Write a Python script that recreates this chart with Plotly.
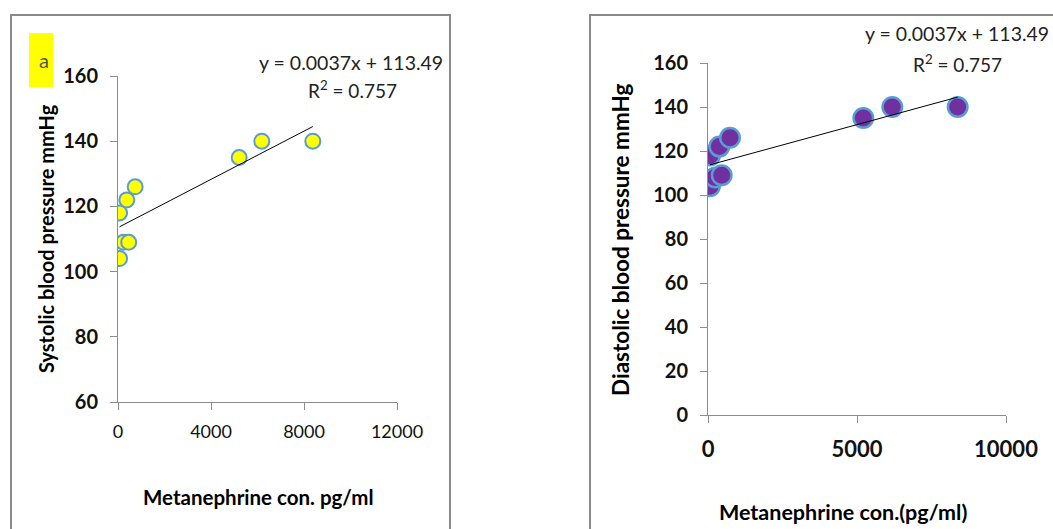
import plotly.graph_objects as go

# ---- data ----
metanephrine = [67, 235, 460, 67, 380, 738, 5212, 6185, 8379]
systolic = [104, 109, 109, 118, 122, 126, 135, 140, 140]
diastolic = [104, 108, 109, 118, 122, 126, 135, 140, 140]
slope = 0.0037
intercept = 113.49
eq_text = "y = 0.0037x + 113.49"
r2_text = "R<sup>2</sup> = 0.757"
a_yticks = [60, 80, 100, 120, 140, 160]
a_xticks = [0, 4000, 8000, 12000]
b_yticks = [0, 20, 40, 60, 80, 100, 120, 140, 160]
b_xticks = [0, 5000, 10000]

W, H = 1053, 529
def px(x):
    return x / W
def py(y):
    return 1 - y / H

FONT = "Lato"
AXCOL = "#8c8c8c"

fx = [min(metanephrine), max(metanephrine)]
fy = [slope * v + intercept for v in fx]

fig = go.Figure()
fig.add_trace(go.Scatter(x=metanephrine, y=systolic, mode="markers", xaxis="x", yaxis="y",
                         marker=dict(size=15, color="#FFFF00", line=dict(color="#5B9BD5", width=2)),
                         showlegend=False))
fig.add_trace(go.Scatter(x=fx, y=fy, mode="lines", xaxis="x", yaxis="y",
                         line=dict(color="black", width=1), showlegend=False))
fig.add_trace(go.Scatter(x=metanephrine, y=diastolic, mode="markers", xaxis="x2", yaxis="y2",
                         marker=dict(size=19.5, color="#7030A0", line=dict(color="#5B9BD5", width=2.5)),
                         showlegend=False))
fig.add_trace(go.Scatter(x=fx, y=fy, mode="lines", xaxis="x2", yaxis="y2",
                         line=dict(color="black", width=1), showlegend=False))

axis_common = dict(showgrid=False, zeroline=False, showline=True, linecolor=AXCOL, linewidth=1,
                   ticks="outside", ticklen=7, tickcolor=AXCOL, tickwidth=1, automargin=False)

fig.update_layout(
    width=W, height=H,
    margin=dict(l=0, r=0, t=0, b=0, autoexpand=False),
    paper_bgcolor="white", plot_bgcolor="white",
    font=dict(family=FONT, color="black"),
    xaxis=dict(domain=[px(118), px(397)], range=[0, 12000], tickvals=a_xticks,
               ticktext=[str(v) for v in a_xticks], anchor="y", ticklabelstandoff=6,
               tickfont=dict(size=18, color="#111"), **axis_common),
    yaxis=dict(domain=[py(402), py(76)], range=[60, 160], tickvals=a_yticks,
               ticktext=[str(v) for v in a_yticks], anchor="x", ticklabelstandoff=8,
               tickfont=dict(size=20, color="#111", weight="bold"), **axis_common),
    xaxis2=dict(domain=[px(708), px(1006)], range=[0, 10000], tickvals=b_xticks,
                ticktext=[str(v) for v in b_xticks], anchor="y2", ticklabelstandoff=8,
                tickfont=dict(size=22, color="#111", weight="bold"), **axis_common),
    yaxis2=dict(domain=[py(415), py(63)], range=[0, 160], tickvals=b_yticks,
                ticktext=[str(v) for v in b_yticks], anchor="x2", ticklabelstandoff=8,
                tickfont=dict(size=20, color="#111", weight="bold"), **axis_common),
)

shapes = [
    dict(type="rect", xref="paper", yref="paper", x0=px(11), x1=px(450), y0=py(560), y1=py(15),
         line=dict(color="#8a8a8a", width=2)),
    dict(type="rect", xref="paper", yref="paper", x0=px(590), x1=px(1100), y0=py(560), y1=py(15),
         line=dict(color="#8a8a8a", width=2)),
    dict(type="rect", xref="paper", yref="paper", x0=px(29), x1=px(53), y0=py(87), y1=py(33),
         line=dict(width=0), fillcolor="#FFFF00"),
]
fig.update_layout(shapes=shapes)

ann = [
    dict(text="a", x=px(51), y=py(60), xanchor="right", yanchor="middle", font=dict(size=20, color="#555")),
    dict(text=eq_text, x=px(351), y=py(62), xanchor="center", yanchor="middle", font=dict(size=19.5, color="#222")),
    dict(text=r2_text, x=px(352), y=py(90), xanchor="center", yanchor="middle", font=dict(size=19, color="#222")),
    dict(text="<b>Systolic blood pressure mmHg</b>", x=px(46), y=py(239), textangle=-90,
         xanchor="center", yanchor="middle", font=dict(size=20)),
    dict(text="<b>Metanephrine con. pg/ml</b>", x=px(258), y=py(497), xanchor="center", yanchor="middle",
         font=dict(size=20.5)),
    dict(text=eq_text, x=px(863), y=py(33), xanchor="left", yanchor="middle", font=dict(size=19.5, color="#222")),
    dict(text=r2_text, x=px(957), y=py(63), xanchor="center", yanchor="middle", font=dict(size=19, color="#222")),
    dict(text="<b>Diastolic blood pressure mmHg</b>", x=px(620), y=py(240), textangle=-90,
         xanchor="center", yanchor="middle", font=dict(size=22.5)),
    dict(text="<b>Metanephrine con.(pg/ml)</b>", x=px(843), y=py(512), xanchor="center", yanchor="middle",
         font=dict(size=21.5)),
]
for a in ann:
    a.update(xref="paper", yref="paper", showarrow=False)
fig.update_layout(annotations=ann)

fig.write_html("out.html", config={"displayModeBar": False},
               post_script="document.body.style.margin='0';document.body.style.overflow='hidden';")
